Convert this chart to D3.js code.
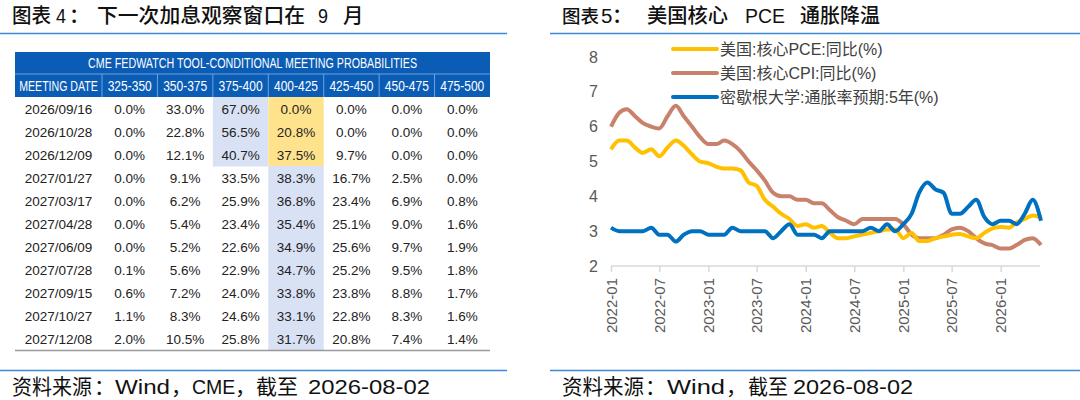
<!DOCTYPE html>
<html>
<head>
<meta charset="utf-8">
<script src="https://cdn.jsdelivr.net/npm/d3@7"></script>
<style>
  body { margin: 0; background: #fff; }
  svg { display: block; }
  .cjk { font-family: "Liberation Sans", "Noto Sans CJK SC", sans-serif; }
</style>
</head>
<body>
<svg id="chart" width="1080" height="400"></svg>
<script>
// ---- table data (CME FedWatch) ----
const tableTitle = "CME FEDWATCH TOOL-CONDITIONAL MEETING PROBABILITIES";
const firstColLabel = "MEETING DATE";
const rateBuckets = ["325-350", "350-375", "375-400", "400-425", "425-450", "450-475", "475-500"];
const currentBucket = "400-425";
const meetingDates = ["2026/09/16", "2026/10/28", "2026/12/09", "2027/01/27", "2027/03/17", "2027/04/28",
  "2027/06/09", "2027/07/28", "2027/09/15", "2027/10/27", "2027/12/08"];
const probs = [
  [0.0, 33.0, 67.0, 0.0, 0.0, 0.0, 0.0],
  [0.0, 22.8, 56.5, 20.8, 0.0, 0.0, 0.0],
  [0.0, 12.1, 40.7, 37.5, 9.7, 0.0, 0.0],
  [0.0, 9.1, 33.5, 38.3, 16.7, 2.5, 0.0],
  [0.0, 6.2, 25.9, 36.8, 23.4, 6.9, 0.8],
  [0.0, 5.4, 23.4, 35.4, 25.1, 9.0, 1.6],
  [0.0, 5.2, 22.6, 34.9, 25.6, 9.7, 1.9],
  [0.1, 5.6, 22.9, 34.7, 25.2, 9.5, 1.8],
  [0.6, 7.2, 24.0, 33.8, 23.8, 8.8, 1.7],
  [1.1, 8.3, 24.6, 33.1, 22.8, 8.3, 1.6],
  [2.0, 10.5, 25.8, 31.7, 20.8, 7.4, 1.4]
];

// ---- line chart data (monthly, 2022-01 .. 2026-06) ----
const startMonth = "2022-01";
const seriesNames = ["美国:核心PCE:同比(%)", "美国:核心CPI:同比(%)", "密歇根大学:通胀率预期:5年(%)"];
const corePCE = [5.35, 5.6, 5.6, 5.4, 5.25, 5.35, 5.15, 5.4, 5.6, 5.45, 5.2, 5.0,
  4.95, 4.85, 4.8, 4.8, 4.75, 4.4, 4.3, 3.9, 3.7, 3.5, 3.35, 3.15,
  3.2, 3.1, 3.15, 2.95, 2.8, 2.8, 2.85, 2.9, 2.95, 3.0, 3.05, 3.05,
  2.8, 2.95, 2.72, 2.72, 2.8, 2.85, 2.9, 2.92, 2.85, 2.8, 2.95, 3.08,
  3.12, 3.1, 3.25, 3.35, 3.45, 3.4];
const coreCPI = [6.0, 6.4, 6.5, 6.3, 6.1, 6.0, 5.95, 6.3, 6.6, 6.3, 6.0, 5.7,
  5.5, 5.5, 5.6, 5.5, 5.3, 5.0, 4.75, 4.45, 4.1, 4.0, 4.0, 3.9,
  3.9, 3.8, 3.8, 3.6, 3.4, 3.3, 3.2, 3.35, 3.35, 3.35, 3.35, 3.35,
  3.2, 2.9, 2.8, 2.8, 2.8, 2.9, 3.05, 3.1, 3.0, 2.8, 2.65, 2.6,
  2.5, 2.5, 2.6, 2.75, 2.8, 2.6];
const michigan5y = [3.1, 3.0, 3.0, 3.0, 3.0, 3.1, 2.9, 2.9, 2.7, 2.9, 3.0, 3.0,
  2.9, 2.9, 2.9, 3.1, 3.0, 3.0, 3.0, 3.0, 2.8, 3.0, 3.2, 2.9,
  2.9, 2.9, 2.8, 3.0, 3.0, 3.0, 3.0, 3.0, 3.1, 3.0, 3.2, 3.0,
  3.2, 3.5, 4.1, 4.4, 4.2, 4.1, 3.5, 3.5, 3.7, 3.9, 3.4, 3.2,
  3.3, 3.3, 3.2, 3.5, 3.9, 3.3];
const yTicks = [2, 3, 4, 5, 6, 7, 8];

const svg = d3.select("#chart");
const ruleBlue = "#3a8ad6";

// text built from pieces so the wide report spacing can be kept
// piece = [text, x, textLength?, fontSize?]
function pieceText(pieces, baseline, size, weight) {
  const t = svg.append("text").attr("class", "cjk").attr("y", baseline)
    .attr("font-size", size).attr("font-weight", weight || 400).attr("fill", "#111");
  pieces.forEach(p => {
    const s = t.append("tspan").attr("x", p[1]).text(p[0]);
    if (p[2]) s.attr("textLength", p[2]).attr("lengthAdjust", "spacingAndGlyphs");
    if (p[3]) s.attr("font-size", p[3]);
  });
}

function rules(x0, x1) {
  [33.5, 370.5].forEach(yy => svg.append("line").attr("x1", x0).attr("x2", x1)
    .attr("y1", yy).attr("y2", yy).attr("stroke", ruleBlue).attr("stroke-width", 1.5));
}
rules(0, 507);
rules(550, 1080);

pieceText([["图表", 12, 39], ["4", 56, 10], ["：", 69], ["下一次加息观察窗口在", 97, 208], ["9", 318, 10], ["月", 343]], 23, 20.5, 500);
pieceText([["图表", 562, 0, 18.5], ["5", 601], ["：", 612], ["美国核心", 647, 81], ["PCE", 745, 40], ["通胀降温", 800, 80]], 23, 20.5, 500);
pieceText([["资料来源", 12, 80], ["：", 94], ["Wind", 115, 55], ["，", 171], ["CME", 192, 0, 19.5], ["，", 235],
  ["截至", 256, 42], ["2026-08-02", 308, 122]], 394, 21);
pieceText([["资料来源", 562, 82], ["：", 645], ["Wind", 667, 58], ["，", 726], ["截至", 748, 40],
  ["2026-08-02", 793, 120]], 394, 21);

// ---- table ----
const tLeft = 15, tRight = 490, firstColW = 87;
const colX = d3.scaleBand().domain(rateBuckets).range([tLeft + firstColW, tRight]);
const rowY = d3.scaleBand().domain(meetingDates).range([97, 350]);
const headBlue = "#0b5cb5";
const bodyFont = "'Liberation Sans', Arial, sans-serif";

const tbl = svg.append("g");
tbl.append("rect").attr("x", tLeft).attr("y", 52).attr("width", tRight - tLeft).attr("height", 45)
  .attr("fill", headBlue);
tbl.append("line").attr("x1", tLeft).attr("x2", tRight).attr("y1", 74).attr("y2", 74)
  .attr("stroke", "#6fa3de").attr("stroke-width", 1);
// header text is tall and narrow, so stretch it vertically
tbl.append("text").attr("transform", `translate(${(tLeft + tRight) / 2},68) scale(1,1.25)`)
  .attr("text-anchor", "middle").attr("font-family", bodyFont).attr("font-size", 11)
  .attr("fill", "#fff").attr("textLength", 329).attr("lengthAdjust", "spacingAndGlyphs")
  .text(tableTitle);

const headCols = [{ label: firstColLabel, x: tLeft, w: firstColW, size: 10.6 }]
  .concat(rateBuckets.map(b => ({ label: b, x: colX(b), w: colX.bandwidth(), size: 12 })));
tbl.selectAll(".hcell").data(headCols.slice(0, -1)).enter().append("line")
  .attr("x1", d => d.x + d.w).attr("x2", d => d.x + d.w).attr("y1", 74).attr("y2", 97)
  .attr("stroke", "#6fa3de");
tbl.selectAll(".htext").data(headCols).enter().append("text")
  .attr("transform", d => `translate(${d.x + d.w / 2},91) scale(1,${15 / d.size})`)
  .attr("text-anchor", "middle").attr("font-family", bodyFont).attr("font-size", d => d.size)
  .attr("fill", "#fff").text(d => d.label);

// highlight: most likely bucket in blue; current range in yellow when it is not the most likely
const cells = [];
probs.forEach((row, i) => {
  const maxIdx = d3.maxIndex(row);
  row.forEach((v, j) => {
    let fill = null;
    if (j === maxIdx) fill = "#d9e1f4";
    else if (rateBuckets[j] === currentBucket && rateBuckets[maxIdx] !== currentBucket) fill = "#ffe38c";
    cells.push({ date: meetingDates[i], bucket: rateBuckets[j], v, fill });
  });
});
tbl.selectAll(".bg").data(cells.filter(c => c.fill)).enter().append("rect")
  .attr("x", d => colX(d.bucket)).attr("y", d => rowY(d.date))
  .attr("width", colX.bandwidth()).attr("height", rowY.bandwidth() + 0.5)
  .attr("fill", d => d.fill);

tbl.selectAll(".dt").data(meetingDates).enter().append("text")
  .attr("x", tLeft + firstColW / 2).attr("y", d => rowY(d) + rowY.bandwidth() / 2 + 5)
  .attr("text-anchor", "middle").attr("font-family", bodyFont).attr("font-size", 13.5)
  .attr("fill", "#222").text(d => d);
tbl.selectAll(".pv").data(cells).enter().append("text")
  .attr("x", d => colX(d.bucket) + colX.bandwidth() / 2).attr("y", d => rowY(d.date) + rowY.bandwidth() / 2 + 5)
  .attr("text-anchor", "middle").attr("font-family", bodyFont).attr("font-size", 13.5)
  .attr("fill", "#222").text(d => d.v.toFixed(1) + "%");
tbl.append("line").attr("x1", tLeft).attr("x2", tRight).attr("y1", 350.5).attr("y2", 350.5)
  .attr("stroke", "#999").attr("stroke-width", 1.5);

// ---- line chart ----
const parseM = d3.timeParse("%Y-%m");
const t0 = parseM(startMonth);
const months = corePCE.map((_, i) => d3.timeMonth.offset(t0, i));
const x = d3.scaleTime().domain([t0, months[months.length - 1]]).range([611, 1041]);
const y = d3.scaleLinear().domain([2, 8]).range([266, 57]);

const g = svg.append("g");
const xAxis = d3.axisBottom(x).ticks(d3.timeMonth.every(6)).tickFormat(d3.timeFormat("%Y-%m"))
  .tickSize(6).tickSizeOuter(0);
const xg = g.append("g").attr("transform", "translate(0,266)").call(xAxis);
xg.select(".domain").attr("stroke", "#d9d9d9").attr("stroke-width", 1.5)
  .attr("d", "M611,0H1040");
xg.selectAll(".tick line").attr("stroke", "#d9d9d9").attr("stroke-width", 1.5);
xg.selectAll(".tick text")
  .attr("font-family", bodyFont).attr("font-size", 15).attr("fill", "#595959")
  .attr("transform", "rotate(-90)").attr("text-anchor", "end")
  .attr("x", -12).attr("y", 0).attr("dy", "0.35em");

const yAxis = d3.axisLeft(y).tickValues(yTicks).tickSize(0).tickFormat(d3.format("d"));
const yg = g.append("g").attr("transform", "translate(598,0)").call(yAxis);
yg.select(".domain").remove();
yg.selectAll(".tick text").attr("font-family", bodyFont).attr("font-size", 16)
  .attr("fill", "#595959").attr("x", 0);

const series = [
  { name: seriesNames[0], values: corePCE, color: "#ffc000" },
  { name: seriesNames[1], values: coreCPI, color: "#c8816b" },
  { name: seriesNames[2], values: michigan5y, color: "#0070c0" }
];
const line = d3.line().x((d, i) => x(months[i])).y(d => y(d)).curve(d3.curveMonotoneX);
// draw order: CPI, PCE, then Michigan on top
g.selectAll(".series").data([series[1], series[0], series[2]]).enter().append("path")
  .attr("d", d => line(d.values)).attr("fill", "none")
  .attr("stroke", d => d.color).attr("stroke-width", 4).attr("stroke-linejoin", "round");

// legend
const legY = d3.scalePoint().domain(seriesNames).range([49, 97]);
const leg = g.selectAll(".leg").data(series).enter().append("g")
  .attr("transform", d => `translate(673,${legY(d.name)})`);
leg.append("line").attr("x1", 0).attr("x2", 44).attr("stroke", d => d.color)
  .attr("stroke-width", 4).attr("stroke-linecap", "round");
leg.append("text").attr("class", "cjk").attr("x", 47).attr("dy", "0.36em")
  .attr("font-size", 16).attr("fill", "#404040").text(d => d.name);
</script>
</body>
</html>
